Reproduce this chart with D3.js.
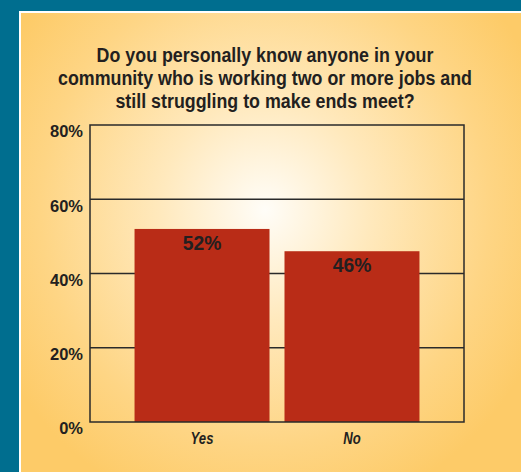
<!DOCTYPE html>
<html><head><meta charset="utf-8">
<script src="https://cdn.jsdelivr.net/npm/d3@7"></script>
<style>html,body{margin:0;padding:0;background:#006e8f;}svg{display:block;}</style>
</head><body>
<script>
const categories = ["Yes", "No"];
const values = [52, 46];
const valueLabels = ["52%", "46%"];
const yTicks = [0, 20, 40, 60, 80];
const titleLines = ["Do you personally know anyone in your", "community who is working two or more jobs and", "still struggling to make ends meet?"];

const W = 521, H = 472;
const svg = d3.select("body").append("svg").attr("width", W).attr("height", H);
const defs = svg.append("defs");
const grad = defs.append("radialGradient").attr("id", "bg")
  .attr("gradientUnits", "userSpaceOnUse").attr("cx", 265).attr("cy", 210).attr("r", 300)
  .attr("gradientTransform", "translate(265,210) scale(1,1.05) translate(-265,-210)");
grad.append("stop").attr("offset", "0").attr("stop-color", "#fffdf8");
grad.append("stop").attr("offset", "0.35").attr("stop-color", "#ffe9bd");
grad.append("stop").attr("offset", "0.75").attr("stop-color", "#fed584");
grad.append("stop").attr("offset", "1").attr("stop-color", "#fdcb68");

svg.append("rect").attr("width", W).attr("height", H).attr("fill", "#006e8f");
svg.append("rect").attr("x", 19).attr("y", 11).attr("width", W - 19).attr("height", H - 11).attr("fill", "#ffffff");
svg.append("rect").attr("x", 21).attr("y", 13).attr("width", W - 21).attr("height", H - 13).attr("fill", "url(#bg)");

const sans = "'Liberation Sans', Arial, Helvetica, sans-serif";
const title = svg.append("text").attr("text-anchor", "middle")
  .attr("transform", "translate(265,0) scale(0.915,1)")
  .attr("font-family", sans).attr("font-weight", "bold").attr("font-size", 19.5).attr("fill", "#231f20");
titleLines.forEach((t, i) => title.append("tspan").attr("x", 0).attr("y", 62 + i * 23).text(t));

const pLeft = 90, pRight = 464, pTop = 125, pBottom = 422;
const x = d3.scaleBand().domain(categories).range([pLeft, pRight]).paddingInner(0.1).paddingOuter(0.297);
const y = d3.scaleLinear().domain([0, 80]).range([pBottom, pTop]);

const g = svg.append("g");
g.selectAll("line.grid").data(yTicks.filter(d => d > 0 && d < 80)).join("line")
  .attr("x1", pLeft).attr("x2", pRight).attr("y1", d => y(d)).attr("y2", d => y(d))
  .attr("stroke", "#2a2a2a").attr("stroke-width", 1.3);

g.selectAll("rect.bar").data(values).join("rect")
  .attr("x", (d, i) => x(categories[i])).attr("width", x.bandwidth())
  .attr("y", d => y(d)).attr("height", d => y(0) - y(d)).attr("fill", "#b92c17");

g.append("rect").attr("x", pLeft).attr("y", pTop).attr("width", pRight - pLeft).attr("height", pBottom - pTop)
  .attr("fill", "none").attr("stroke", "#2a2a2a").attr("stroke-width", 1.5);

g.selectAll("text.val").data(values).join("text")
  .attr("transform", (d, i) => `translate(${x(categories[i]) + x.bandwidth() / 2},${y(d) + 21}) scale(0.92,1)`)
  .attr("text-anchor", "middle").attr("font-family", sans).attr("font-weight", "bold")
  .attr("font-size", 21).attr("fill", "#231f20").text((d, i) => valueLabels[i]);

const yAxis = d3.axisLeft(y).tickValues(yTicks).tickFormat(d => d + "%").tickSize(0).tickPadding(7);
const ya = svg.append("g").attr("transform", `translate(${pLeft},0)`).call(yAxis);
ya.select(".domain").remove();
ya.selectAll("text").attr("font-family", sans).attr("font-weight", "bold")
  .attr("font-size", 16.5).attr("fill", "#231f20").attr("dy", "0.72em");

const xAxis = d3.axisBottom(x).tickSize(0).tickPadding(0);
const xa = svg.append("g").attr("transform", `translate(0,${pBottom})`).call(xAxis);
xa.select(".domain").remove();
xa.selectAll("text").attr("dy", null).attr("y", null)
  .attr("transform", "translate(0,21.5) scale(0.82,1)")
  .attr("font-family", sans).attr("font-weight", "bold").attr("font-style", "italic")
  .attr("font-size", 16).attr("fill", "#231f20");
</script>
</body></html>
